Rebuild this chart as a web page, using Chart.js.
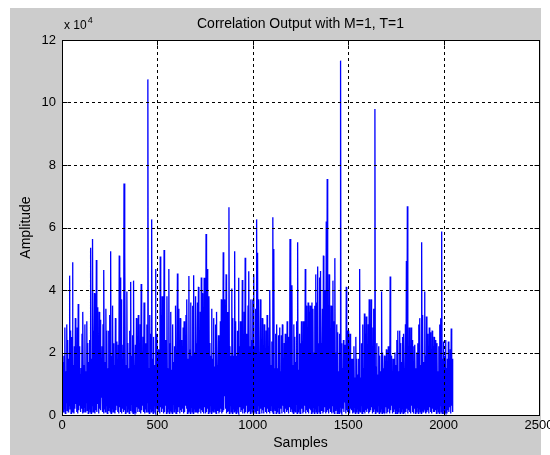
<!DOCTYPE html>
<html>
<head>
<meta charset="utf-8">
<script src="https://cdn.jsdelivr.net/npm/chart.js@4.4.1/dist/chart.umd.min.js"></script>
<style>
  html, body { margin: 0; padding: 0; background: #fff; }
  canvas { display: block; }
</style>
</head>
<body>
<canvas id="corr" width="550" height="455"></canvas>
<script>
// amplitude in units of 1e4 (axis shows "x 10^4")
// one peak and one trough per 5 samples
const sampleStep = 5;
const peaks = [
  1.7, 1.6, 1.9, 2.8, 1.4, 2.9, 2.4, 1.8, 4.46, 2.7,
  2.5, 4.89, 1.6, 2.2, 3.1, 1.5, 2.8, 3.55, 2.2, 1.3,
  1.5, 2.6, 3.3, 1.6, 2.9, 1.4, 3.0, 2.3, 1.7, 2.4,
  5.35, 1.8, 5.63, 2.7, 3.9, 1.6, 4.96, 3.45, 1.9, 3.3,
  3.05, 1.5, 2.2, 2.9, 4.64, 1.7, 3.4, 2.7, 1.5, 2.7,
  3.2, 5.24, 1.9, 3.5, 2.3, 1.6, 3.1, 2.35, 1.4, 2.25,
  5.1, 4.4, 3.7, 1.3, 2.25, 7.41, 5.24, 1.6, 3.95, 2.3,
  1.5, 2.7, 4.26, 1.9, 2.55, 4.3, 1.6, 2.25, 3.1, 1.7,
  3.2, 1.4, 2.9, 4.19, 2.0, 2.5, 3.6, 1.6, 2.3, 2.9,
  10.74, 1.5, 3.2, 2.6, 6.26, 1.8, 2.5, 1.6, 4.67, 2.6,
  1.7, 2.1, 1.5, 5.07, 3.2, 3.8, 1.6, 5.28, 2.2, 2.4,
  3.8, 1.5, 4.67, 2.3, 3.3, 1.45, 2.9, 1.7, 2.2, 3.5,
  1.6, 4.53, 3.4, 1.9, 3.1, 2.4, 1.6, 2.8, 3.0, 1.7,
  3.2, 3.7, 1.8, 4.45, 2.1, 3.6, 1.9, 3.5, 4.47, 2.0,
  3.8, 2.3, 3.6, 4.1, 2.7, 3.3, 4.4, 3.9, 2.5, 4.39,
  3.8, 5.79, 4.67, 2.6, 3.8, 2.3, 1.9, 3.4, 1.8, 3.1,
  1.55, 2.9, 3.3, 1.6, 2.55, 1.8, 3.0, 3.7, 1.7, 5.21,
  3.7, 1.9, 4.5, 2.1, 3.3, 6.65, 2.2, 1.9, 4.05, 3.1,
  1.9, 5.24, 3.0, 1.9, 2.7, 4.39, 2.2, 3.0, 1.8, 4.32,
  2.1, 3.3, 5.03, 2.6, 1.9, 3.5, 4.6, 2.2, 3.7, 2.4,
  3.7, 4.5, 2.2, 3.4, 6.26, 5.19, 3.7, 2.0, 3.7, 2.4,
  3.1, 2.0, 2.9, 1.6, 2.7, 3.2, 1.8, 2.8, 4.0, 1.6,
  2.35, 6.33, 5.31, 1.5, 2.6, 2.9, 1.5, 2.55, 2.8, 1.4,
  2.55, 2.9, 1.45, 2.3, 2.6, 1.4, 3.0, 2.5, 1.7, 5.63,
  2.65, 4.15, 1.6, 2.9, 2.5, 1.7, 3.0, 5.53, 1.45, 2.6,
  2.3, 3.0, 1.7, 3.0, 2.8, 4.67, 3.5, 2.0, 3.6, 3.3,
  3.5, 2.2, 3.6, 3.4, 2.0, 3.5, 4.5, 3.6, 4.75, 2.3,
  4.4, 4.61, 2.3, 3.4, 5.1, 4.0, 2.3, 6.19, 7.55, 3.5,
  4.5, 2.2, 3.5, 2.0, 4.3, 3.0, 5.02, 2.0, 2.9, 2.65,
  1.4, 2.6, 11.34, 2.3, 1.5, 2.4, 2.25, 1.6, 4.1, 2.7,
  2.7, 1.4, 2.6, 1.8, 1.3, 1.8, 2.2, 1.2, 2.5, 1.8,
  1.3, 1.8, 4.67, 1.2, 2.3, 2.9, 1.5, 3.25, 2.6, 3.15,
  1.7, 2.9, 3.7, 1.6, 3.7, 2.0, 2.8, 3.4, 9.79, 1.55,
  2.3, 1.3, 2.2, 1.9, 1.4, 3.95, 2.0, 1.5, 1.9, 1.2,
  2.1, 1.6, 2.2, 1.4, 4.43, 1.9, 1.4, 1.8, 1.1, 2.0,
  1.6, 2.4, 2.7, 1.4, 2.7, 2.3, 1.7, 2.5, 2.6, 1.5,
  2.9, 4.93, 6.68, 1.9, 2.8, 1.6, 2.8, 2.4, 1.65, 2.2,
  2.25, 1.5, 2.0, 2.3, 2.9, 3.1, 1.6, 5.53, 3.2, 1.7,
  3.95, 1.9, 3.15, 2.6, 1.8, 2.8, 2.65, 1.6, 2.7, 2.2,
  2.5, 1.5, 2.4, 2.3, 1.4, 2.2, 2.9, 3.1, 5.87, 1.8,
  2.35, 1.9, 2.4, 1.5, 1.8, 2.35, 1.8, 2.1, 2.77, 1.8
];
const troughs = [
  0.3, 0.1, 0.2, 0.05, 0.4, 0.15, 0.1, 0.3, 0.2, 0.05,
  0.1, 0.25, 0.05, 0.2, 0.35, 0.1, 0.05, 0.15, 0.3, 0.1,
  0.2, 0.05, 0.1, 0.25, 0.1, 0.4, 0.15, 0.05, 0.2, 0.1,
  0.05, 0.3, 0.1, 0.2, 0.05, 0.15, 0.1, 0.35, 0.05, 0.2,
  0.15, 0.55, 0.1, 0.05, 0.2, 0.1, 0.3, 0.05, 0.15, 0.25,
  0.1, 0.05, 0.2, 0.1, 0.4, 0.05, 0.15, 0.3, 0.1, 0.05,
  0.25, 0.1, 0.05, 0.2, 0.1, 0.15, 0.05, 0.3, 0.1, 0.2,
  0.05, 0.15, 0.35, 0.1, 0.05, 0.2, 0.1, 0.05, 0.25, 0.1,
  0.2, 0.1, 0.05, 0.15, 0.3, 0.1, 0.05, 0.2, 0.1, 0.4,
  0.1, 0.05, 0.2, 0.1, 0.15, 0.05, 0.3, 0.1, 0.05, 0.2,
  0.15, 0.1, 0.05, 0.25, 0.1, 0.2, 0.05, 0.1, 0.3, 0.05,
  0.1, 0.2, 0.05, 0.15, 0.1, 0.05, 0.35, 0.1, 0.2, 0.05,
  0.05, 0.1, 0.25, 0.05, 0.15, 0.1, 0.2, 0.05, 0.1, 0.3,
  0.2, 0.05, 0.1, 0.15, 0.05, 0.25, 0.1, 0.05, 0.2, 0.1,
  0.1, 0.3, 0.05, 0.1, 0.2, 0.05, 0.15, 0.1, 0.05, 0.25,
  0.05, 0.1, 0.2, 0.05, 0.1, 0.3, 0.05, 0.15, 0.1, 0.2,
  0.1, 0.05, 0.15, 0.25, 0.05, 0.1, 0.2, 0.05, 0.1, 0.15,
  0.6, 0.2, 0.05, 0.1, 0.15, 0.05, 0.3, 0.1, 0.05, 0.2,
  0.1, 0.15, 0.05, 0.2, 0.1, 0.05, 0.25, 0.1, 0.15, 0.05,
  0.2, 0.05, 0.1, 0.3, 0.05, 0.1, 0.15, 0.05, 0.2, 0.1,
  0.05, 0.2, 0.1, 0.05, 0.15, 0.3, 0.05, 0.1, 0.2, 0.05,
  0.15, 0.05, 0.25, 0.1, 0.05, 0.2, 0.1, 0.05, 0.15, 0.3,
  0.1, 0.05, 0.2, 0.15, 0.05, 0.1, 0.25, 0.05, 0.1, 0.2,
  0.05, 0.3, 0.1, 0.05, 0.2, 0.1, 0.15, 0.05, 0.25, 0.1,
  0.2, 0.1, 0.05, 0.15, 0.1, 0.35, 0.05, 0.1, 0.2, 0.05,
  0.1, 0.2, 0.05, 0.1, 0.3, 0.05, 0.15, 0.1, 0.05, 0.2,
  0.15, 0.05, 0.1, 0.25, 0.05, 0.2, 0.1, 0.05, 0.3, 0.1,
  0.05, 0.15, 0.2, 0.05, 0.1, 0.25, 0.05, 0.1, 0.15, 0.05,
  0.2, 0.1, 0.05, 0.3, 0.1, 0.05, 0.15, 0.2, 0.05, 0.1,
  0.05, 0.25, 0.1, 0.05, 0.2, 0.1, 0.4, 0.05, 0.15, 0.1,
  0.1, 0.05, 0.2, 0.15, 0.05, 0.1, 0.25, 0.05, 0.1, 0.2,
  0.05, 0.15, 0.1, 0.3, 0.05, 0.2, 0.1, 0.05, 0.15, 0.1,
  0.2, 0.05, 0.1, 0.15, 0.25, 0.05, 0.1, 0.2, 0.05, 0.15,
  0.1, 0.3, 0.05, 0.1, 0.2, 0.05, 0.15, 0.1, 0.05, 0.25,
  0.05, 0.1, 0.2, 0.05, 0.15, 0.3, 0.05, 0.1, 0.2, 0.05,
  0.15, 0.05, 0.1, 0.25, 0.05, 0.1, 0.2, 0.05, 0.15, 0.1,
  0.1, 0.2, 0.05, 0.15, 0.1, 0.05, 0.3, 0.1, 0.05, 0.2,
  0.05, 0.1, 0.25, 0.05, 0.2, 0.1, 0.05, 0.15, 0.1, 0.3,
  0.2, 0.05, 0.1, 0.15, 0.05, 0.25, 0.1, 0.05, 0.2, 0.1,
  0.1, 0.15, 0.05, 0.2, 0.1, 0.05, 0.3, 0.1, 0.05, 0.15,
  0.05, 0.2, 0.1, 0.05, 0.15, 0.1, 0.25, 0.05, 0.3, 0.1
];
const xTicks = [0, 500, 1000, 1500, 2000, 2500];
const yTicks = [0, 2, 4, 6, 8, 10, 12];
const titleText = 'Correlation Output with M=1, T=1';
const xLabel = 'Samples';
const yLabel = 'Amplitude';

const points = [];
peaks.forEach((p, i) => {
  points.push({ x: i * sampleStep, y: p });
  points.push({ x: i * sampleStep + sampleStep / 2, y: troughs[i] });
});

const FONT = "'Liberation Sans', Arial, sans-serif";

// matlab look: grey figure, grid on top of the trace, inward ticks
const figurePlugin = {
  id: 'figure',
  beforeDraw(chart) {
    const c = chart.ctx;
    const a = chart.chartArea;
    c.save();
    c.fillStyle = '#fff';
    c.fillRect(0, 0, chart.width, chart.height);
    c.fillStyle = '#cccccc';
    c.fillRect(10, 8, 531, 447);
    c.fillStyle = '#fff';
    c.fillRect(a.left, a.top, a.right - a.left, a.bottom - a.top);
    c.restore();
  },
  afterDatasetsDraw(chart) {
    const c = chart.ctx;
    const a = chart.chartArea;
    const xs = chart.scales.x;
    const ys = chart.scales.y;
    c.save();
    c.strokeStyle = '#000';
    c.lineWidth = 1;
    c.setLineDash([3, 3]);
    xTicks.slice(1, -1).forEach(v => {
      const px = Math.round(xs.getPixelForValue(v)) + 0.5;
      c.beginPath(); c.moveTo(px, a.top); c.lineTo(px, a.bottom); c.stroke();
    });
    yTicks.slice(1, -1).forEach(v => {
      const py = Math.round(ys.getPixelForValue(v)) + 0.5;
      c.beginPath(); c.moveTo(a.left, py); c.lineTo(a.right, py); c.stroke();
    });
    c.setLineDash([]);
    const L = Math.round(a.left) + 0.5, R = Math.round(a.right) + 0.5;
    const T = Math.round(a.top) + 0.5, B = Math.round(a.bottom) + 0.5;
    c.strokeRect(L, T, R - L, B - T);
    xTicks.forEach(v => {
      const px = Math.round(xs.getPixelForValue(v)) + 0.5;
      c.beginPath();
      c.moveTo(px, B); c.lineTo(px, B - 5);
      c.moveTo(px, T); c.lineTo(px, T + 5);
      c.stroke();
    });
    yTicks.forEach(v => {
      const py = Math.round(ys.getPixelForValue(v)) + 0.5;
      c.beginPath();
      c.moveTo(L, py); c.lineTo(L + 5, py);
      c.moveTo(R, py); c.lineTo(R - 5, py);
      c.stroke();
    });

    c.fillStyle = '#000';
    c.textAlign = 'center';
    c.textBaseline = 'alphabetic';
    c.font = '14px ' + FONT;
    c.fillText(titleText, (a.left + a.right) / 2, 28);
    c.fillText(xLabel, (a.left + a.right) / 2, 447);
    c.save();
    c.translate(30, (a.top + a.bottom) / 2);
    c.rotate(-Math.PI / 2);
    c.fillText(yLabel, 0, 0);
    c.restore();
    c.textAlign = 'left';
    c.font = '12px ' + FONT;
    c.fillText('x 10', 64, 29);
    const w = c.measureText('x 10').width;
    c.font = '9px ' + FONT;
    c.fillText('4', 64 + w + 1, 23);
    c.restore();
  }
};

const tickFont = { family: FONT, size: 13 };
const plainLabel = v => String(v);

new Chart(document.getElementById('corr').getContext('2d'), {
  type: 'line',
  data: {
    datasets: [{
      data: points,
      borderColor: '#0000ff',
      borderWidth: 1.3,
      pointRadius: 0,
      fill: false,
      tension: 0
    }]
  },
  options: {
    responsive: false,
    animation: false,
    devicePixelRatio: 1,
    layout: { padding: { left: 0, top: 40, right: 11, bottom: 0 } },
    plugins: {
      legend: { display: false },
      tooltip: { enabled: false },
      title: { display: false }
    },
    scales: {
      x: {
        type: 'linear',
        min: 0,
        max: 2500,
        afterBuildTicks: s => { s.ticks = xTicks.map(v => ({ value: v })); },
        ticks: { font: tickFont, color: '#000', padding: 3, maxRotation: 0, autoSkip: false, callback: plainLabel },
        grid: { display: false, drawTicks: false },
        border: { display: false },
        afterFit: s => { s.height = 40; s.paddingLeft = 0; s.paddingRight = 0; }
      },
      y: {
        type: 'linear',
        min: 0,
        max: 12,
        afterBuildTicks: s => { s.ticks = yTicks.map(v => ({ value: v })); },
        ticks: { font: tickFont, color: '#000', padding: 6, autoSkip: false, callback: plainLabel },
        grid: { display: false, drawTicks: false },
        border: { display: false },
        afterFit: s => { s.width = 62; s.paddingTop = 0; s.paddingBottom = 0; }
      }
    }
  },
  plugins: [figurePlugin]
});
</script>
</body>
</html>
